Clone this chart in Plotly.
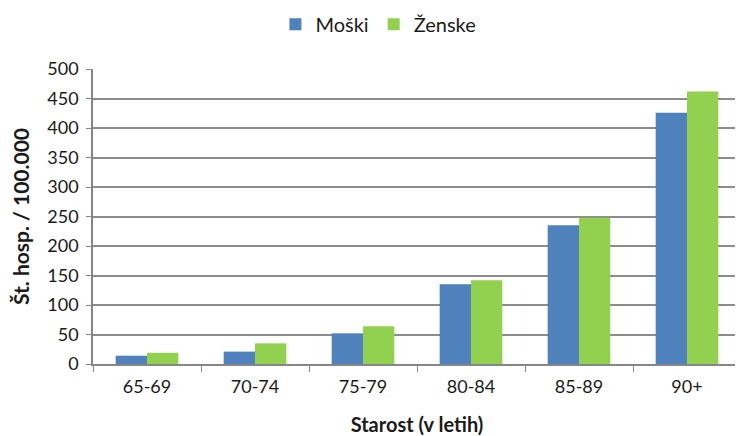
import plotly.graph_objects as go

categories = ["65-69", "70-74", "75-79", "80-84", "85-89", "90+"]
moski = [14, 21, 52, 135, 235, 426]
zenske = [19, 35, 64, 142, 248, 462]
y_ticks = [0, 50, 100, 150, 200, 250, 300, 350, 400, 450, 500]

FONT = "Lato, 'Open Sans', sans-serif"

fig = go.Figure()
fig.add_trace(go.Bar(x=categories, y=moski, name="Moški", marker=dict(color="#4F81BD", line=dict(width=0))))
fig.add_trace(go.Bar(x=categories, y=zenske, name="Ženske", marker=dict(color="#92D050", line=dict(width=0))))

# page body has an 8px margin, so the figure is a bit smaller than the window
fig.update_layout(
    width=735,
    height=428,
    margin=dict(l=85, r=2, t=61, b=72, autoexpand=False),
    paper_bgcolor="white",
    plot_bgcolor="white",
    font=dict(family=FONT, size=18, color="#1a1a1a"),
    barmode="group",
    bargap=0.42,
    bargroupgap=0,
    legend=dict(
        orientation="h",
        x=0.504,
        xanchor="center",
        xref="container",
        y=0.962,
        yanchor="middle",
        yref="container",
        font=dict(size=20),
        itemwidth=30,
    ),
)

fig.update_xaxes(
    title=dict(text="<b>Starost (v letih)</b>", font=dict(size=20), standoff=22),
    showline=True,
    linecolor="#868686",
    linewidth=1.5,
    ticks="outside",
    tickson="boundaries",
    ticklen=6,
    tickcolor="#868686",
    showgrid=False,
    tickfont=dict(size=18),
    ticklabelstandoff=6,
    automargin=False,
)
fig.update_yaxes(
    title=dict(text="<b>Št. hosp. / 100.000</b>", font=dict(size=21), standoff=15),
    range=[0, 500],
    tickvals=y_ticks,
    showline=True,
    linecolor="#868686",
    linewidth=1.5,
    ticks="outside",
    ticklen=5,
    tickcolor="#868686",
    showgrid=True,
    gridcolor="#8C8C8C",
    gridwidth=1.5,
    zeroline=False,
    tickfont=dict(size=18),
    ticklabelstandoff=4,
    automargin=False,
)

fig.write_html("out.html")
